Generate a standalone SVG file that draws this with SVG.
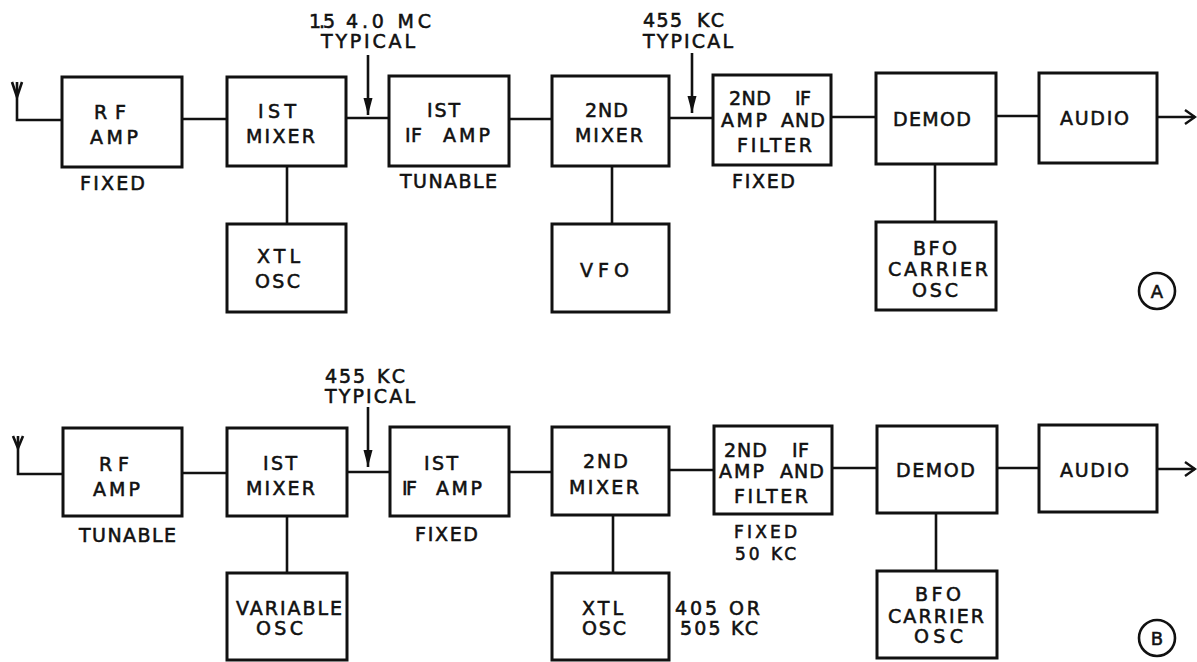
<svg xmlns="http://www.w3.org/2000/svg" width="1197" height="662" viewBox="0 0 1197 662">
<defs>
<style>
.box{fill:none;stroke:#111;stroke-width:3}
.ln{fill:none;stroke:#111;stroke-width:2.6}
text{font-family:"DejaVu Sans","Liberation Sans",sans-serif;font-size:19px;fill:#111;stroke:#111;stroke-width:0.55}
.c{font-size:18px}
.s{font-size:17px}
</style>
<marker id="tri" markerUnits="userSpaceOnUse" markerWidth="18" markerHeight="10" refX="17" refY="4.5" orient="auto" viewBox="0 0 18 10">
<path d="M0,0 L17,4.5 L0,9 z" fill="#111"/>
</marker>
<marker id="open" markerUnits="userSpaceOnUse" markerWidth="14" markerHeight="18" refX="11" refY="8" orient="auto" viewBox="0 0 14 18" overflow="visible">
<path d="M1,1 L11,8 L1,15" fill="none" stroke="#111" stroke-width="2.4"/>
</marker>
</defs>
<rect width="1197" height="662" fill="#fff"/>

<g id="connectors">
<!-- row A -->
<path class="ln" d="M17,82 V120 H62"/>
<path class="ln" d="M12,82 L17,97 L22,82"/>
<path class="ln" d="M182,119 H227"/>
<path class="ln" d="M346,118 H389"/>
<path class="ln" d="M509,119 H552"/>
<path class="ln" d="M669,118 H713"/>
<path class="ln" d="M831,117 H876"/>
<path class="ln" d="M996,116 H1039"/>
<path class="ln" d="M1157,117 H1195" marker-end="url(#open)"/>
<path class="ln" d="M287,166 V224"/>
<path class="ln" d="M612,166 V224"/>
<path class="ln" d="M935,164 V222"/>
<path class="ln" d="M368,55 V115" marker-end="url(#tri)"/>
<path class="ln" d="M692,53 V113" marker-end="url(#tri)"/>
<!-- row B -->
<path class="ln" d="M18,436 V474 H63"/>
<path class="ln" d="M13,436 L18,448 L23,436"/>
<path class="ln" d="M182,473 H227"/>
<path class="ln" d="M347,472 H390"/>
<path class="ln" d="M509,472 H552"/>
<path class="ln" d="M669,470 H714"/>
<path class="ln" d="M832,468 H877"/>
<path class="ln" d="M997,468 H1039"/>
<path class="ln" d="M1157,469 H1195" marker-end="url(#open)"/>
<path class="ln" d="M287,516 V573"/>
<path class="ln" d="M613,515 V573"/>
<path class="ln" d="M936,513 V571"/>
<path class="ln" d="M368,407 V467" marker-end="url(#tri)"/>
</g>

<!-- Diagram A -->
<g id="a-rf-amp">
<rect class="box" x="62" y="77" width="120" height="90"/>
<text><tspan x="94" y="119" textLength="32">RF</tspan><tspan x="90" y="144" textLength="48">AMP</tspan></text>
<text x="80" y="190" textLength="65">FIXED</text>
</g>
<g id="a-1st-mixer">
<rect class="box" x="227" y="77" width="119" height="89"/>
<text><tspan x="258" y="118" textLength="38">IST</tspan><tspan x="246" y="143" textLength="69">MIXER</tspan></text>
</g>
<g id="a-xtl-osc">
<rect class="box" x="227" y="224" width="119" height="88"/>
<text><tspan x="257" y="263" textLength="43">XTL</tspan><tspan x="255" y="288" textLength="45">OSC</tspan></text>
</g>
<g id="a-label-if1">
<text><tspan x="309" y="28" textLength="26">1.5</tspan><tspan x="346" y="28" textLength="85">4.0 MC</tspan><tspan x="321" y="48" textLength="94">TYPICAL</tspan></text>
</g>
<g id="a-1st-if-amp">
<rect class="box" x="389" y="76" width="120" height="90"/>
<text><tspan x="427" y="117" textLength="33">IST</tspan><tspan x="405" y="142" textLength="17">IF</tspan><tspan x="443" y="142" textLength="47">AMP</tspan></text>
<text x="400" y="188" textLength="97">TUNABLE</text>
</g>
<g id="a-2nd-mixer">
<rect class="box" x="552" y="76" width="117" height="90"/>
<text><tspan x="585" y="117" textLength="43">2ND</tspan><tspan x="575" y="142" textLength="68">MIXER</tspan></text>
</g>
<g id="a-vfo">
<rect class="box" x="552" y="224" width="117" height="88"/>
<text x="580" y="277" textLength="49">VFO</text>
</g>
<g id="a-label-if2">
<text><tspan x="643" y="27" textLength="39">455</tspan><tspan x="697" y="27" textLength="27">KC</tspan><tspan x="643" y="48" textLength="90">TYPICAL</tspan></text>
</g>
<g id="a-2nd-if-amp">
<rect class="box" x="713" y="75" width="118" height="90"/>
<text><tspan x="729" y="105" textLength="42">2ND</tspan><tspan x="795" y="105" textLength="16">IF</tspan><tspan x="721" y="127" textLength="46">AMP</tspan><tspan x="781" y="127" textLength="44">AND</tspan><tspan x="737" y="152" textLength="75">FILTER</tspan></text>
<text x="732" y="188" textLength="63">FIXED</text>
</g>
<g id="a-demod">
<rect class="box" x="876" y="73" width="120" height="91"/>
<text x="893" y="126" textLength="78">DEMOD</text>
</g>
<g id="a-bfo">
<rect class="box" x="876" y="222" width="120" height="88"/>
<text><tspan x="913" y="255" textLength="44">BFO</tspan><tspan x="888" y="276" textLength="100">CARRIER</tspan><tspan x="912" y="297" textLength="46">OSC</tspan></text>
</g>
<g id="a-audio">
<rect class="box" x="1039" y="73" width="118" height="90"/>
<text x="1060" y="125" textLength="69">AUDIO</text>
</g>
<g id="a-tag">
<circle cx="1157" cy="291" r="18" fill="none" stroke="#111" stroke-width="2.6"/>
<text class="c" x="1157" y="298" text-anchor="middle">A</text>
</g>

<!-- Diagram B -->
<g id="b-rf-amp">
<rect class="box" x="63" y="428" width="119" height="88"/>
<text><tspan x="99" y="471" textLength="30">RF</tspan><tspan x="93" y="496" textLength="47">AMP</tspan></text>
<text x="79" y="542" textLength="97">TUNABLE</text>
</g>
<g id="b-1st-mixer">
<rect class="box" x="227" y="428" width="120" height="88"/>
<text><tspan x="263" y="470" textLength="34">IST</tspan><tspan x="246" y="495" textLength="69">MIXER</tspan></text>
</g>
<g id="b-variable-osc">
<rect class="box" x="227" y="573" width="120" height="87"/>
<text><tspan x="236" y="615" textLength="106">VARIABLE</tspan><tspan x="256" y="635" textLength="47">OSC</tspan></text>
</g>
<g id="b-label-if1">
<text><tspan x="325" y="383" textLength="40">455</tspan><tspan x="377" y="383" textLength="28">KC</tspan><tspan x="325" y="403" textLength="90">TYPICAL</tspan></text>
</g>
<g id="b-1st-if-amp">
<rect class="box" x="390" y="427" width="119" height="89"/>
<text><tspan x="424" y="470" textLength="34">IST</tspan><tspan x="402" y="495" textLength="15">IF</tspan><tspan x="436" y="495" textLength="46">AMP</tspan></text>
<text x="415" y="541" textLength="63">FIXED</text>
</g>
<g id="b-2nd-mixer">
<rect class="box" x="552" y="427" width="117" height="88"/>
<text><tspan x="583" y="468" textLength="45">2ND</tspan><tspan x="569" y="494" textLength="70">MIXER</tspan></text>
</g>
<g id="b-xtl-osc">
<rect class="box" x="552" y="573" width="117" height="87"/>
<text><tspan x="582" y="615" textLength="41">XTL</tspan><tspan x="582" y="635" textLength="44">OSC</tspan></text>
<text><tspan x="675" y="615" textLength="85">405 OR</tspan><tspan x="680" y="635" textLength="78">505 KC</tspan></text>
</g>
<g id="b-2nd-if-amp">
<rect class="box" x="714" y="426" width="118" height="88"/>
<text><tspan x="724" y="457" textLength="43">2ND</tspan><tspan x="792" y="457" textLength="17">IF</tspan><tspan x="719" y="478" textLength="45">AMP</tspan><tspan x="780" y="478" textLength="44">AND</tspan><tspan x="734" y="503" textLength="74">FILTER</tspan></text>
<text class="s" x="734" y="538" textLength="63">FIXED</text>
<text class="s" x="735" y="560" textLength="61">50 KC</text>
</g>
<g id="b-demod">
<rect class="box" x="877" y="426" width="120" height="87"/>
<text x="896" y="477" textLength="79">DEMOD</text>
</g>
<g id="b-bfo">
<rect class="box" x="877" y="571" width="120" height="87"/>
<text><tspan x="915" y="601" textLength="46">BFO</tspan><tspan x="888" y="623" textLength="96">CARRIER</tspan><tspan x="914" y="643" textLength="49">OSC</tspan></text>
</g>
<g id="b-audio">
<rect class="box" x="1039" y="425" width="118" height="87"/>
<text x="1060" y="477" textLength="69">AUDIO</text>
</g>
<g id="b-tag">
<circle cx="1157" cy="638" r="18" fill="none" stroke="#111" stroke-width="2.6"/>
<text class="c" x="1157" y="645" text-anchor="middle">B</text>
</g>
</svg>
